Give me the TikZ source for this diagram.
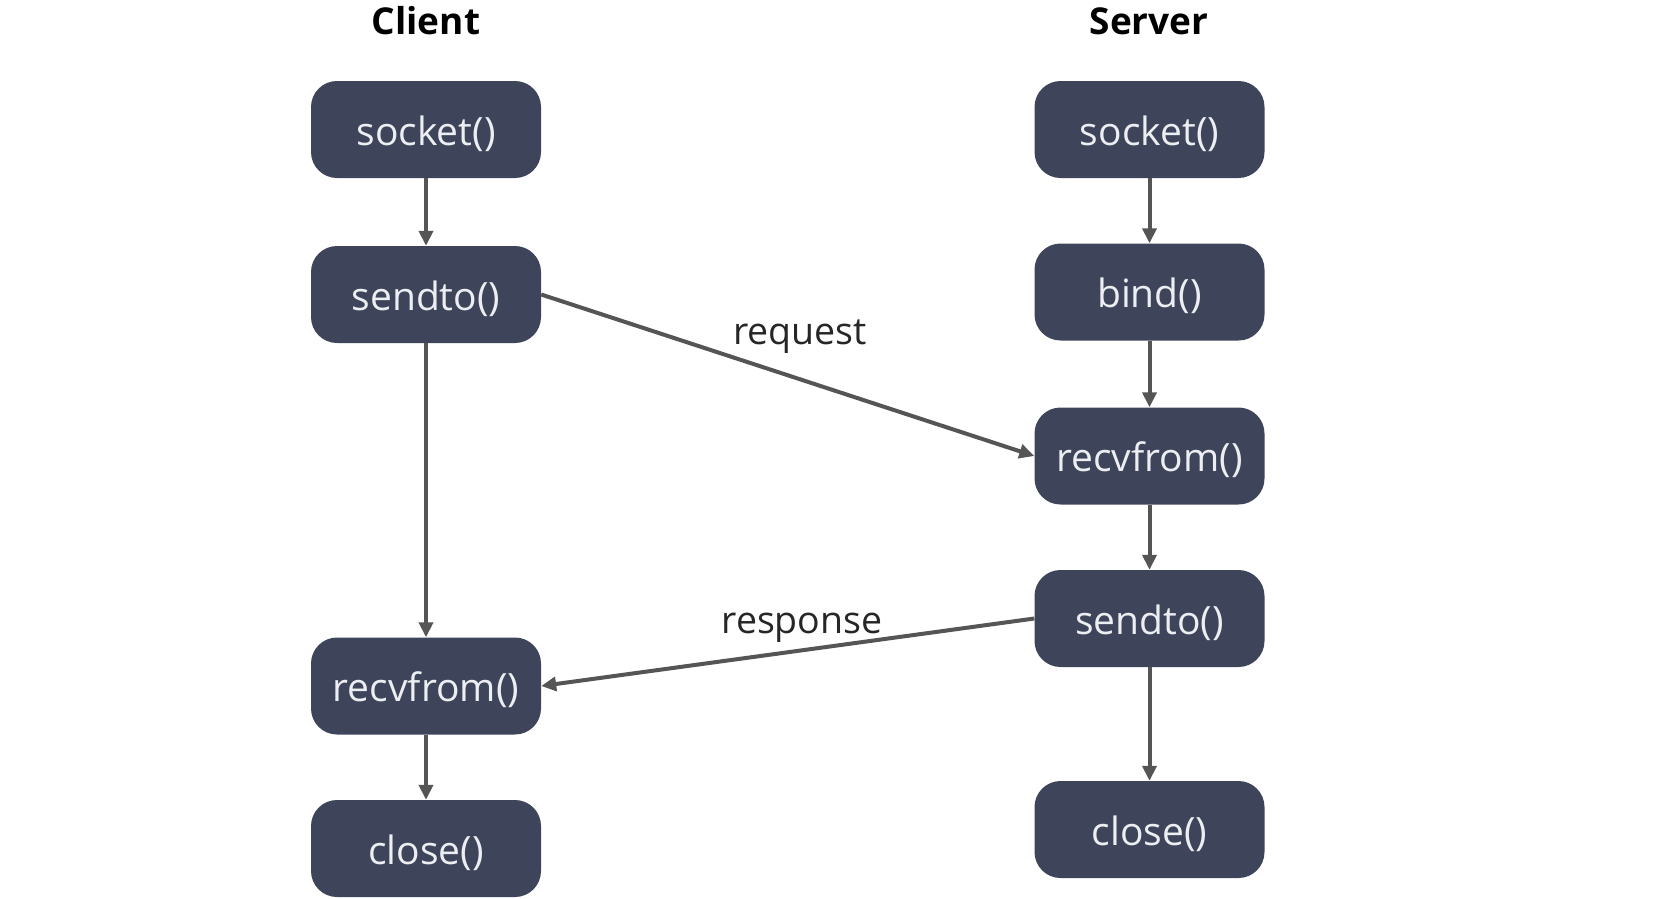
\documentclass[tikz,border=0pt]{standalone}
\usepackage{fontspec}
\setmainfont{Open Sans}
\usetikzlibrary{arrows.meta}
\definecolor{boxfill}{RGB}{62,68,90}
\definecolor{arrowgray}{RGB}{85,85,85}
\definecolor{boxtext}{RGB}{236,238,242}
\begin{document}
\begin{tikzpicture}[x=1pt,y=-1pt,
  fn/.style={rectangle, rounded corners=26pt, fill=boxfill, minimum width=230pt, minimum height=97pt, text=boxtext, font=\fontsize{39}{44}\selectfont, inner sep=0pt, text height=40pt, text depth=9pt},
  ttl/.style={font=\bfseries\fontsize{37}{42}\selectfont, text=black},
  conn/.style={draw=arrowgray, line width=4pt, -{Triangle[length=15pt,width=14pt]}},
  lbl/.style={font=\fontsize{37.5}{42}\selectfont, text=black!85}]
\useasboundingbox (0,0) rectangle (1678,898);
% titles
\node[ttl] (tc) at (426,21) {Client};
\node[ttl] (ts) at (1149,21) {Server};
% client
\node[fn] (cso) at (426,129.5) {socket()};
\node[fn] (cse) at (426,294.5) {sendto()};
\node[fn] (cre) at (426,686) {recvfrom()};
\node[fn] (ccl) at (426,848.5) {close()};
% server
\node[fn] (sso) at (1149.5,129.5) {socket()};
\node[fn] (sbi) at (1149.5,292) {bind()};
\node[fn] (sre) at (1149.5,456) {recvfrom()};
\node[fn] (sse) at (1149.5,618.5) {sendto()};
\node[fn] (scl) at (1149.5,829.5) {close()};
% vertical arrows
\draw[conn] (cso) -- (cse);
\draw[conn] (cse) -- (cre);
\draw[conn] (cre) -- (ccl);
\draw[conn] (sso) -- (sbi);
\draw[conn] (sbi) -- (sre);
\draw[conn] (sre) -- (sse);
\draw[conn] (sse) -- (scl);
% cross arrows
\draw[conn] (cse.east) -- (sre.west);
\draw[conn] (sse.west) -- (cre.east);
% labels
\node[lbl] (lreq) at (800,336.5) {request};
\node[lbl] (lres) at (802,627.5) {response};
\end{tikzpicture}
\end{document}
